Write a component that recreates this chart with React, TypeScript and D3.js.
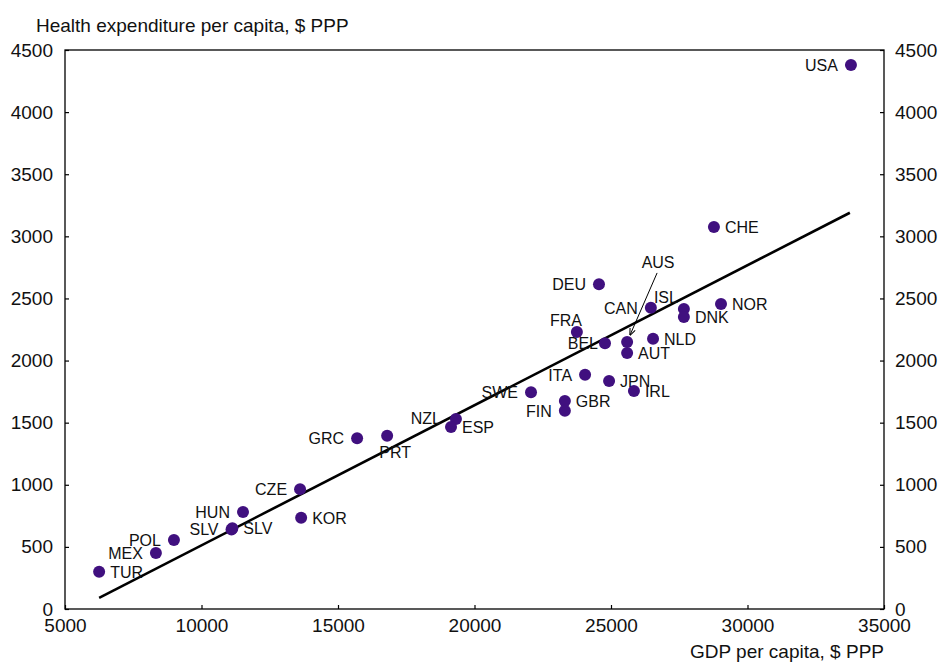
import * as d3 from 'd3';
import React, { useRef, useEffect } from 'react';

// country codes, GDP per capita and health spending per capita (both $ PPP)
const countries = ['USA', 'CHE', 'DEU', 'CAN', 'ISL', 'DNK', 'NOR', 'FRA', 'BEL', 'AUS', 'AUT', 'NLD', 'ITA', 'JPN', 'IRL', 'SWE', 'GBR', 'FIN', 'NZL', 'ESP', 'PRT', 'GRC', 'CZE', 'KOR', 'HUN', 'SLV', 'SLV', 'POL', 'MEX', 'TUR'];
const gdp = [33790, 28770, 24560, 26460, 27670, 27670, 29030, 23750, 24780, 25590, 25590, 26540, 24050, 24930, 25840, 22070, 23310, 23310, 19320, 19140, 16800, 15700, 13610, 13650, 11520, 11100, 11130, 8990, 8330, 6250];
const health = [4380, 3075, 2615, 2425, 2415, 2350, 2455, 2230, 2140, 2150, 2060, 2175, 1885, 1835, 1755, 1745, 1675, 1595, 1530, 1465, 1395, 1375, 965, 735, 780, 640, 650, 555, 450, 300];

// fitted trend line end points
const trendGdp = [6250, 33750];
const trendHealth = [90, 3190];

const xTicks = [5000, 10000, 15000, 20000, 25000, 30000, 35000];
const yTicks = [0, 500, 1000, 1500, 2000, 2500, 3000, 3500, 4000, 4500];

// where each label sits around its dot: [dx, dy, anchor]
const placement: Record<string, [number, number, string]> = {
  l: [-13, 6, 'end'],
  r: [11, 6, 'start'],
};
const labelSide = ['l', 'r', 'l', 'l', 'isl', 'r', 'r', 'fra', 'bel', 'aus', 'r', 'r', 'l', 'r', 'r', 'l', 'r', 'l', 'nzl', 'r', 'prt', 'l', 'l', 'r', 'l', 'l', 'r', 'l', 'l', 'r'];
const custom: Record<string, [number, number, string]> = {
  isl: [-6, -6, 'end'],
  fra: [-11, -6, 'middle'],
  bel: [-7, 6, 'end'],
  aus: [31, -74, 'middle'],
  nzl: [-15, 5, 'end'],
  prt: [8, 22, 'middle'],
};

const W = 938;
const H = 662;
const margin = { top: 50, right: 54, bottom: 53, left: 65 };
const font = 'Liberation Sans, Arial, sans-serif';
const dotColor = '#40107f';

const App = () => {
  const gx = useRef<SVGGElement>(null);
  const gy = useRef<SVGGElement>(null);
  const gy2 = useRef<SVGGElement>(null);

  const x = d3.scaleLinear().domain([5000, 35000]).range([margin.left, W - margin.right]);
  const y = d3.scaleLinear().domain([0, 4500]).range([H - margin.bottom, margin.top]);

  const line = d3
    .line<number>()
    .x((d, i) => x(trendGdp[i]))
    .y((d) => y(d));

  useEffect(() => {
    const style = (g: any) => {
      g.select('.domain').remove();
      g.selectAll('.tick line').attr('stroke', '#000').attr('stroke-width', 1.2);
      g.selectAll('.tick text').attr('font-family', font).attr('font-size', 19).attr('fill', '#111');
    };
    d3.select(gx.current)
      .call(d3.axisBottom(x).tickValues(xTicks).tickFormat(d3.format('d')).tickSize(-4).tickPadding(10) as any)
      .call(style);
    d3.select(gy.current)
      .call(d3.axisLeft(y).tickValues(yTicks).tickFormat(d3.format('d')).tickSize(-4).tickPadding(12) as any)
      .call(style);
    d3.select(gy2.current)
      .call(d3.axisRight(y).tickValues(yTicks).tickFormat(d3.format('d')).tickSize(-4).tickPadding(11) as any)
      .call(style);
  }, []);

  return (
    <svg width={W} height={H} style={{ position: 'absolute', left: 0, top: 0, background: '#fff' }}>
      <defs>
        <marker id="arr" viewBox="0 0 10 10" refX="9" refY="5" markerWidth="7" markerHeight="7" orient="auto">
          <path d="M0,1 L10,5 L0,9" fill="none" stroke="#000" strokeWidth="1.5" />
        </marker>
      </defs>
      <rect
        x={margin.left}
        y={margin.top}
        width={W - margin.left - margin.right}
        height={H - margin.top - margin.bottom}
        fill="none"
        stroke="#000"
        strokeWidth="1.3"
      />
      <g ref={gx} transform={`translate(0,${H - margin.bottom})`} />
      <g ref={gy} transform={`translate(${margin.left},0)`} />
      <g ref={gy2} transform={`translate(${W - margin.right},0)`} />

      <text x={36} y={32} fontFamily={font} fontSize={19} fill="#111">
        Health expenditure per capita, $ PPP
      </text>
      <text x={W - margin.right} y={658} textAnchor="end" fontFamily={font} fontSize={19} fill="#111">
        GDP per capita, $ PPP
      </text>

      <path d={line(trendHealth) || ''} fill="none" stroke="#000" strokeWidth="2.6" />

      <g fill={dotColor}>
        {countries.map((c, i) => (
          <circle key={i} cx={x(gdp[i])} cy={y(health[i])} r="6" />
        ))}
      </g>

      <g fontFamily={font} fontSize={16} fill="#111">
        {countries.map((c, i) => {
          const p = placement[labelSide[i]] || custom[labelSide[i]];
          return (
            <text key={i} x={x(gdp[i]) + p[0]} y={y(health[i]) + p[1]} textAnchor={p[2]}>
              {c}
            </text>
          );
        })}
      </g>

      {/* pointer from the AUS label down to its dot */}
      {countries.map((c, i) =>
        labelSide[i] === 'aus' ? (
          <line
            key={i}
            x1={x(gdp[i]) + 30}
            y1={y(health[i]) - 69}
            x2={x(gdp[i]) + 3}
            y2={y(health[i]) - 7}
            stroke="#000"
            strokeWidth="1"
            markerEnd="url(#arr)"
          />
        ) : null
      )}
    </svg>
  );
};

export default App;
